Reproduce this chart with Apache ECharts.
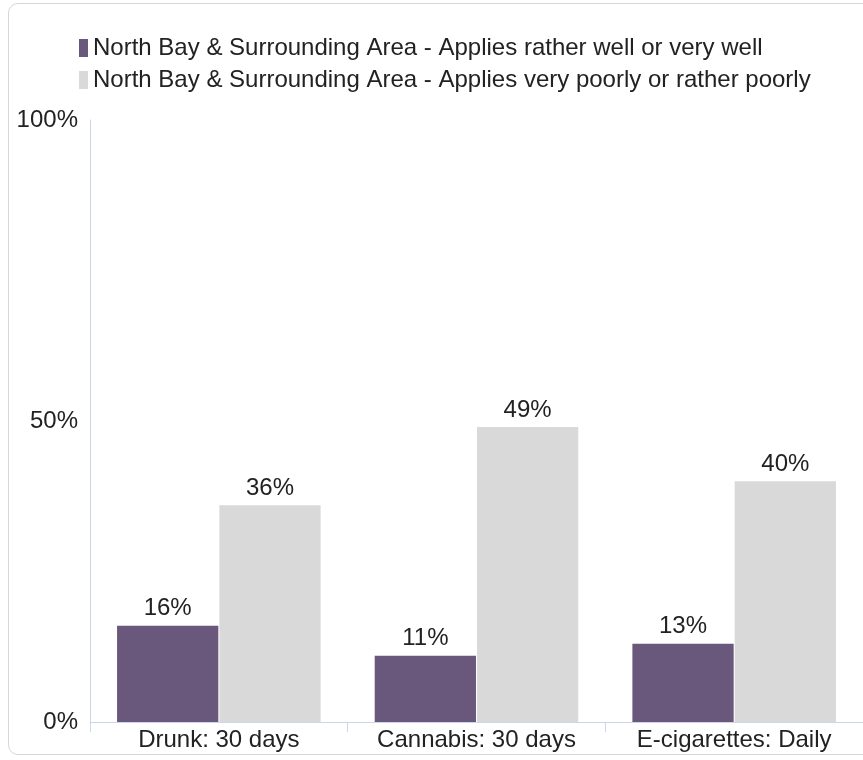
<!DOCTYPE html>
<html>
<head>
    <meta charset="utf-8">
    <title>chart</title>
    <script src="https://cdn.jsdelivr.net/npm/echarts@6/dist/echarts.min.js"></script>
    <style>
        html, body { margin: 0; padding: 0; background: #fff; }
        #frame {
            position: absolute; left: 8px; top: 3px;
            width: 880px; height: 750px;
            border: 1px solid #d6d6d6; border-radius: 10px;
        }
        #main { position: absolute; left: 0; top: 0; width: 863px; height: 760px; }
    </style>
</head>
<body>
    <div id="frame"></div>
    <div id="main"></div>
    <script>
        var categories = ['Drunk: 30 days', 'Cannabis: 30 days', 'E-cigarettes: Daily'];
        var seriesNames = [
            'North Bay & Surrounding Area - Applies rather well or very well',
            'North Bay & Surrounding Area - Applies very poorly or rather poorly'
        ];
        var wellValues = [16, 11, 13];
        var poorlyValues = [36, 49, 40];

        var font = 'Liberation Sans, Arial, sans-serif';
        var axisColor = '#ccd6eb';
        var fs = 24;

        var chart = echarts.init(document.getElementById('main'));
        chart.setOption({
            animation: false,
            textStyle: { fontFamily: font },
            legend: {
                orient: 'vertical',
                left: 79,
                top: 36,
                padding: 0,
                itemWidth: 9,
                itemHeight: 18,
                itemGap: 8,
                icon: 'rect',
                textStyle: { fontSize: fs, color: '#222', fontFamily: font, lineHeight: 23 },
                data: seriesNames
            },
            grid: { left: 90, right: 0, top: 120, bottom: 38, containLabel: false },
            xAxis: {
                type: 'category',
                data: categories,
                axisLine: { lineStyle: { color: axisColor } },
                axisTick: { show: true, interval: 0, length: 10, lineStyle: { color: axisColor } },
                axisLabel: { interval: 0, hideOverlap: false, fontSize: fs, color: '#222', margin: 6, fontFamily: font }
            },
            yAxis: {
                type: 'value',
                min: 0,
                max: 100,
                interval: 50,
                axisLine: { show: true, lineStyle: { color: axisColor } },
                axisTick: { show: false },
                splitLine: { show: false },
                axisLabel: { formatter: '{value}%', fontSize: fs, color: '#222', margin: 12, fontFamily: font }
            },
            series: [{
                name: seriesNames[0],
                type: 'bar',
                data: wellValues,
                barGap: '1%',
                barCategoryGap: '21%',
                itemStyle: { color: '#69577c' },
                label: { show: true, position: 'top', distance: 5, formatter: '{c}%', fontSize: fs, color: '#222', fontFamily: font }
            }, {
                name: seriesNames[1],
                type: 'bar',
                data: poorlyValues,
                itemStyle: { color: '#d9d9d9' },
                label: { show: true, position: 'top', distance: 5, formatter: '{c}%', fontSize: fs, color: '#222', fontFamily: font }
            }]
        });
    </script>
</body>
</html>
